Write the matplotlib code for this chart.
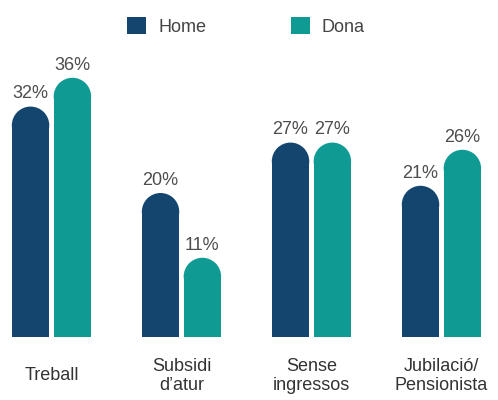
import numpy as np
import matplotlib.pyplot as plt
from matplotlib.patches import Ellipse, Patch

plt.rcParams['font.family'] = ['Liberation Sans', 'DejaVu Sans']

categories = ['Treball', 'Subsidi\nd\u2019atur', 'Sense\ningressos', 'Jubilació/\nPensionista']
home = [32, 20, 27, 21]
dona = [36, 11, 27, 26]
series_names = ['Home', 'Dona']
colors = ['#13456f', '#0f9a93']

fig = plt.figure(figsize=(4.98, 4.0), dpi=100)
ax = fig.add_axes([0, 0, 1, 1])
ax.set_xlim(-0.396, 3.435)
ax.set_ylim(-8.75, 46.8)
ax.axis('off')

x = np.arange(len(categories))
bar_w = 0.288
offset = 0.161

# radius of the rounded cap, kept circular on screen
px_x = fig.get_figwidth() * fig.dpi / (ax.get_xlim()[1] - ax.get_xlim()[0])
px_y = fig.get_figheight() * fig.dpi / (ax.get_ylim()[1] - ax.get_ylim()[0])
r_y = (bar_w / 2) * px_x / px_y

for vals, col, dx in [(home, colors[0], -offset), (dona, colors[1], offset)]:
    xs = x + dx
    ax.bar(xs, np.array(vals) - r_y, width=bar_w, color=col, linewidth=0)
    for xi, v in zip(xs, vals):
        ax.add_patch(Ellipse((xi, v - r_y), bar_w, 2 * r_y, color=col, linewidth=0))
        ax.annotate(f'{v}%', (xi, v), xytext=(0, 3), textcoords='offset points',
                    ha='center', va='bottom', fontsize=13, color='#4d4d4d')

for xi, lab in zip(x, categories):
    ax.text(xi, -5.4, lab, ha='center', va='center', fontsize=13,
            color='#333333', linespacing=1.2)

handles = [Patch(facecolor=c, edgecolor='none') for c in colors]
fig.legend(handles, series_names, loc='upper center', bbox_to_anchor=(0.494, 0.98),
           ncol=2, frameon=False, fontsize=13, handlelength=1.05, handleheight=1.05,
           handletextpad=0.67, columnspacing=4.7, borderpad=0, labelcolor='#444444')

fig.savefig('out.png', dpi=100)
